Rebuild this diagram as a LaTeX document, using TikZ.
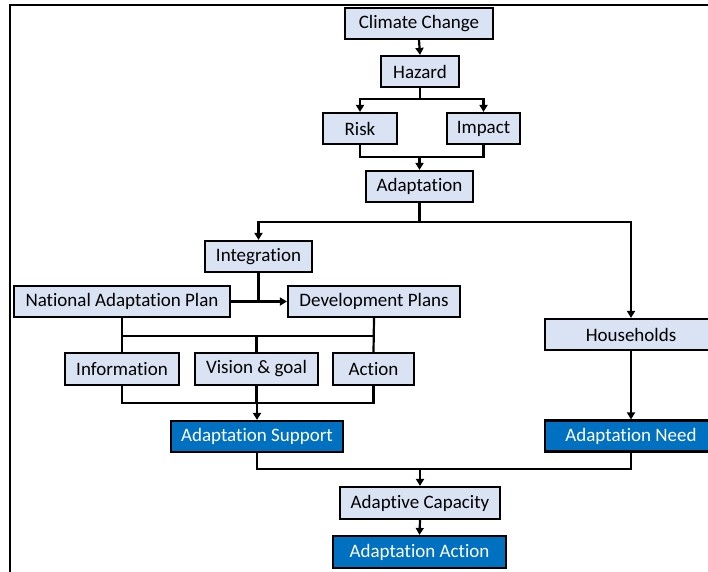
\documentclass[tikz,border=0pt]{standalone}
\usepackage{fontspec}
\setmainfont{Carlito}[RawFeature=-liga]
\usetikzlibrary{arrows.meta}
\definecolor{boxlight}{RGB}{218,227,243}
\definecolor{boxdark}{RGB}{0,112,192}
\begin{document}
\begin{tikzpicture}[x=1pt,y=-1pt,
  every node/.style={font=\fontsize{19}{22}\selectfont, inner sep=0pt, line width=2.2pt},
  lightbox/.style={draw=black, fill=boxlight, text=black, minimum height=31pt},
  darkbox/.style={draw=black, fill=boxdark, text=white, minimum height=31pt},
  link/.style={line width=2.2pt, draw=black},
  arr/.style={link, -{Triangle[length=7pt,width=8pt]}}]
\useasboundingbox (0,0) rectangle (708,571);
\clip (0,0) rectangle (708,571);
% frame
\draw[link] (708,5) -- (10,5) -- (10,580);
% boxes
\node[lightbox, minimum width=148pt] (cc) at (419,23.5) {Climate Change};
\node[lightbox, minimum width=78pt] (hz) at (420,71.5) {Hazard};
\node[lightbox, minimum width=74pt] (risk) at (360,128.5) {Risk};
\node[lightbox, minimum width=73pt] (impact) at (483.5,128.5) {Impact};
\node[lightbox, minimum width=107pt] (adapt) at (419.5,186.5) {Adaptation};
\node[lightbox, minimum width=107pt] (integ) at (258.5,256.5) {Integration};
\node[lightbox, minimum width=216pt] (nap) at (122,301.5) {National Adaptation Plan};
\node[lightbox, minimum width=172pt] (dev) at (374,301.5) {Development Plans};
\node[lightbox, minimum width=172pt] (hh) at (631,334.5) {Households};
\node[lightbox, minimum width=114pt, minimum height=32pt] (info) at (122,369) {Information};
\node[lightbox, minimum width=123pt, minimum height=32pt] (vision) at (256.5,369) {Vision \& goal};
\node[lightbox, minimum width=81pt, minimum height=32pt] (action) at (373.5,369) {Action};
\node[darkbox, minimum width=172pt] (supp) at (257,436.5) {Adaptation Support};
\node[darkbox, minimum width=172pt] (need) at (631,436) {Adaptation Need};
\node[lightbox, minimum width=160pt, minimum height=32pt] (cap) at (420,503) {Adaptive Capacity};
\node[darkbox, minimum width=173pt, minimum height=32pt] (act) at (419.5,552) {Adaptation Action};
% hazard chain
\draw[arr] (cc.south) -- (hz.north);
\coordinate (j1) at (hz.south |- 0,99);
\draw[link] (hz.south) -- (j1);
\draw[arr] (j1) -| (risk.north);
\draw[arr] (j1) -| (impact.north);
\coordinate (j2) at (adapt.north |- 0,157);
\draw[link] (risk.south) |- (j2) -| (impact.south);
\draw[arr] (j2) -- (adapt.north);
% adaptation split
\coordinate (j3) at (adapt.south |- 0,222);
\draw[link] (adapt.south) -- (j3);
\draw[arr] (j3) -| (integ.north);
\draw[arr] (j3) -| (hh.north);
% planning branch
\draw[arr] (nap.east) -- (dev.west);
\draw[link] (integ.south) -- (integ.south |- nap.east);
\coordinate (j4) at (0,336);
\draw[link] (nap.south) -- (info.north);
\draw[link] (dev.south) -- (action.north);
\draw[link] (nap.south |- j4) -- (dev.south |- j4);
\draw[link] (vision.north) -- (vision.north |- j4);
\coordinate (j5) at (supp.north |- 0,403);
\draw[link] (info.south) |- (j5) -| (action.south);
\draw[link] (vision.south) -- (vision.south |- j5);
\draw[arr] (j5) -- (supp.north);
% households branch
\draw[arr] (hh.south) -- (need.north);
% merge into capacity
\coordinate (j6) at (cap.north |- 0,469);
\draw[link] (supp.south) |- (j6) -| (need.south);
\draw[arr] (j6) -- (cap.north);
\draw[arr] (cap.south) -- (act.north);
\end{tikzpicture}
\end{document}
